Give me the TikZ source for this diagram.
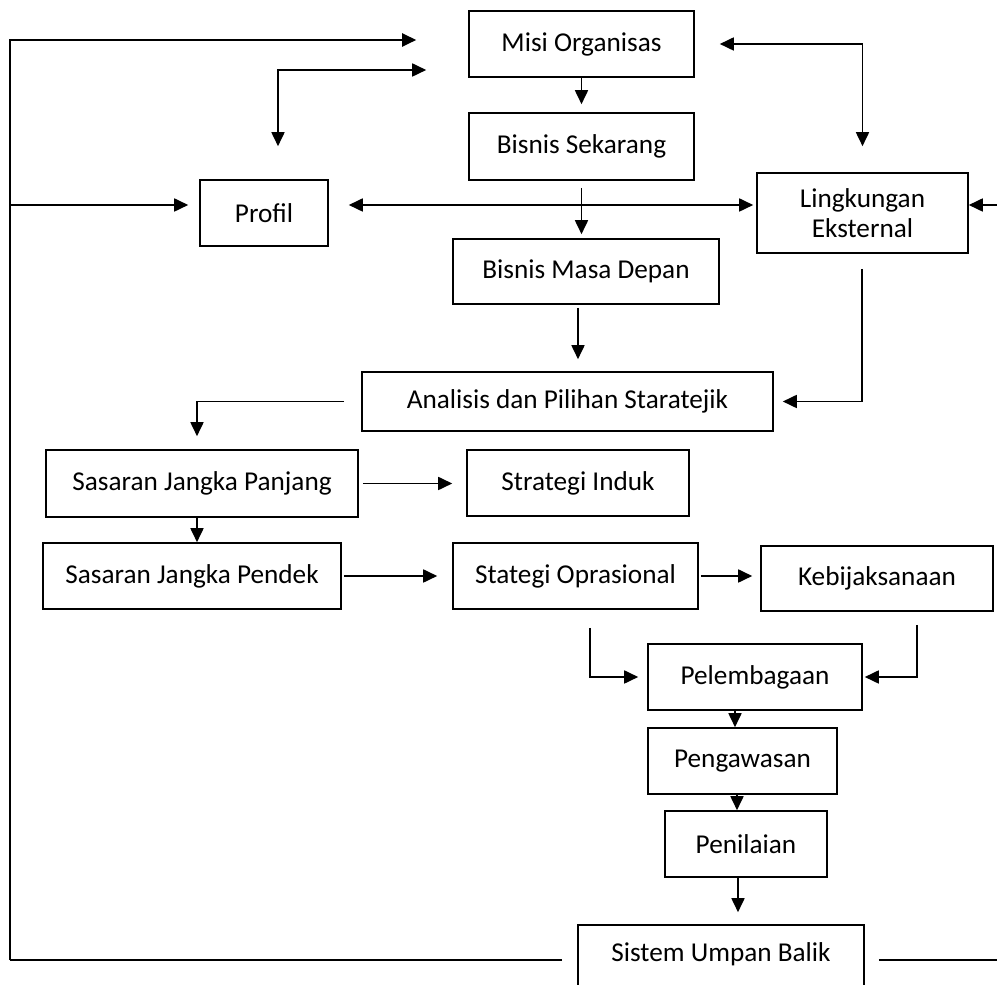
\documentclass[tikz,border=0pt]{standalone}
\usepackage{fontspec}
\setmainfont{Carlito}
\usetikzlibrary{arrows.meta,calc}

\begin{document}
\begin{tikzpicture}[
  box/.style={draw,line width=0.9pt,minimum height=1.32cm,inner sep=2pt,
              align=center,font=\fontsize{15.5}{17}\selectfont},
  arr/.style={-{Triangle[length=0.28cm,width=0.26cm]},line width=1pt},
  dbl/.style={{Triangle[length=0.28cm,width=0.26cm]}-{Triangle[length=0.28cm,width=0.26cm]},
              line width=1pt},
  fb/.style={line width=1.2pt}]
  \path[use as bounding box,clip] (0,0) rectangle (19.94,-19.7);

  % upper part
  \node[box,minimum width=4.5cm]  (misi)   at (11.63,-0.88) {Misi Organisas};
  \node[box,minimum width=4.5cm,minimum height=1.34cm] (sek) at (11.63,-2.93) {Bisnis Sekarang};
  \node[box,minimum width=2.56cm] (profil) at (5.28,-4.26)  {Profil};
  \node[box,minimum width=4.22cm,minimum height=1.6cm] (lingk) at (17.25,-4.26) {Lingkungan\\Eksternal};
  \node[box,minimum width=5.32cm,minimum height=1.3cm] (masa) at (11.72,-5.43) {Bisnis Masa Depan};
  \node[box,minimum width=8.22cm,minimum height=1.18cm] (anal) at (11.35,-8.03) {Analisis dan Pilihan Staratejik};

  % sasaran dan strategi
  \node[box,minimum width=6.24cm,minimum height=1.34cm] (panjang) at (4.04,-9.67) {Sasaran Jangka Panjang};
  \node[box,minimum width=4.44cm] (induk)  at (11.56,-9.66)  {Strategi Induk};
  \node[box,minimum width=5.96cm] (pendek) at (3.84,-11.52)  {Sasaran Jangka Pendek};
  \node[box,minimum width=4.9cm]  (opr)    at (11.51,-11.52) {Stategi Oprasional};
  \node[box,minimum width=4.64cm,minimum height=1.3cm] (kebij) at (17.54,-11.57) {Kebijaksanaan};

  % pelaksanaan
  \node[box,minimum width=4.28cm] (pelem)  at (15.1,-13.54)  {Pelembagaan};
  \node[box,minimum width=3.78cm] (peng)   at (14.85,-15.22) {Pengawasan};
  \node[box,minimum width=3.24cm] (penil)  at (14.92,-16.88) {Penilaian};
  \node[box,minimum width=5.72cm,minimum height=1.4cm,text depth=0.3cm] (sistem) at (14.42,-19.2) {Sistem Umpan Balik};

  \coordinate (fbL) at (0.2,-19.2);
  \coordinate (fbR) at (19.94,-19.2);
  \coordinate (rEdge) at (19.94,-4.1);

  % umpan balik
  \draw[fb,shorten <=0.3cm] (sistem.west) -- (fbL);
  \draw[arr,fb,shorten >=1.04cm] (fbL) |- ([yshift=0.08cm]misi.west);
  \draw[arr,shorten >=0.22cm] (fbL |- profil.west) ++(0,0.16) -- ([yshift=0.16cm]profil.west);
  \draw[fb,shorten <=0.28cm] (sistem.east) -- (fbR);
  \draw[arr] (rEdge) -- (rEdge -| lingk.east);

  \draw[dbl,shorten <=0.84cm,shorten >=0.66cm] ([yshift=-0.52cm]misi.west) -| ([xshift=0.28cm]profil.north);
  \draw[dbl,shorten <=0.5cm,shorten >=0.52cm] (misi.east) -| (lingk.north);
  \draw[dbl,shorten <=0.4cm,shorten >=0.06cm] ([yshift=0.16cm]profil.east) -- ([yshift=0.16cm]profil.east -| lingk.west);

  \draw[arr,shorten >=0.16cm] (misi.south) -- (misi.south |- sek.north);
  \draw[arr,shorten <=0.14cm,shorten >=0.08cm] (sek.south) -- (sek.south |- masa.north);
  \draw[arr,shorten <=0.06cm,shorten >=0.24cm] ([xshift=-0.16cm]masa.south) -- ([xshift=-0.16cm]masa.south |- anal.north);
  \draw[arr,shorten <=0.3cm,shorten >=0.18cm] ([xshift=-0.01cm]lingk.south) |- (anal.east);
  \draw[arr,shorten <=0.34cm,shorten >=0.26cm] (anal.west) -| ([xshift=-0.1cm]panjang.north);

  \draw[arr,shorten <=0.08cm,shorten >=0.28cm] (panjang.east) -- (panjang.east -| induk.west);
  \draw[arr] ([xshift=-0.1cm]panjang.south) -- ([xshift=-0.1cm]panjang.south |- pendek.north);
  \draw[arr,shorten <=0.04cm,shorten >=0.3cm] (pendek.east) -- (pendek.east -| opr.west);
  \draw[arr,shorten <=0.04cm,shorten >=0.16cm] (opr.east) -- (opr.east -| kebij.west);

  \draw[arr,shorten <=0.36cm,shorten >=0.18cm] ([xshift=0.29cm]opr.south) |- (pelem.west);
  \draw[arr,shorten <=0.26cm,shorten >=0.04cm] ([xshift=0.8cm]kebij.south) |- (pelem.east);
  \draw[arr] ([xshift=-0.4cm]pelem.south) -- ([xshift=-0.4cm]pelem.south |- peng.north);
  \draw[arr] ([xshift=-0.11cm]peng.south) -- ([xshift=-0.11cm]peng.south |- penil.north);
  \draw[arr,shorten >=0.24cm] ([xshift=-0.16cm]penil.south) -- ([xshift=-0.16cm]penil.south |- sistem.north);
\end{tikzpicture}
\end{document}
